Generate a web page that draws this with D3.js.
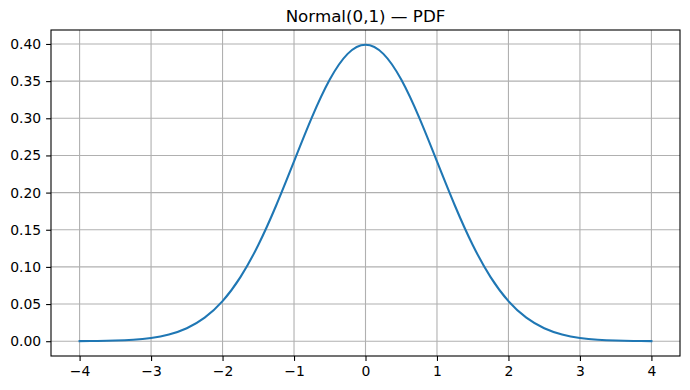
<!DOCTYPE html>
<html lang="en">
  <head>
    <meta charset="UTF-8" />
    <title>Normal(0,1) — PDF</title>
    <style>
      body { margin: 0; background: #fff; }
      svg text { font-family: "DejaVu Sans", sans-serif; fill: #000; }
      .tick text { font-size: 13.9px; }
      .grid line { stroke: #b0b0b0; stroke-width: 1.1; }
    </style>
  </head>
  <body>
    <svg width="690" height="390"></svg>
    <script src="https://d3js.org/d3.v7.min.js"></script>
    <script>
      // values (standard normal density)
      const xs = [-4, -3.75, -3.5, -3.25, -3, -2.75, -2.5, -2.25, -2, -1.75, -1.5, -1.25, -1,
        -0.75, -0.5, -0.25, 0, 0.25, 0.5, 0.75, 1, 1.25, 1.5, 1.75, 2, 2.25, 2.5, 2.75, 3,
        3.25, 3.5, 3.75, 4];
      const ys = [0.00013, 0.00035, 0.00087, 0.00203, 0.00443, 0.00909, 0.01753, 0.03174,
        0.05399, 0.08628, 0.12952, 0.18265, 0.24197, 0.30114, 0.35207, 0.38667, 0.39894,
        0.38667, 0.35207, 0.30114, 0.24197, 0.18265, 0.12952, 0.08628, 0.05399, 0.03174,
        0.01753, 0.00909, 0.00443, 0.00203, 0.00087, 0.00035, 0.00013];
      const xTicks = [-4, -3, -2, -1, 0, 1, 2, 3, 4];
      const yTicks = [0, 0.05, 0.1, 0.15, 0.2, 0.25, 0.3, 0.35, 0.4];
      const title = "Normal(0,1) — PDF";

      const svg = d3.select("svg");
      const m = { left: 51, right: 680, top: 30, bottom: 356 };

      const x = d3.scaleLinear().domain([-4.4, 4.4]).range([m.left, m.right]);
      const y = d3.scaleLinear().domain([-0.0199, 0.4188]).range([m.bottom, m.top]);
      const fmtX = (d) => (d < 0 ? "\u2212" + Math.abs(d) : String(d));

      // grid
      const grid = svg.append("g").attr("class", "grid");
      grid.selectAll(".gx").data(xTicks).enter().append("line")
        .attr("x1", (d) => x(d)).attr("x2", (d) => x(d))
        .attr("y1", m.top).attr("y2", m.bottom);
      grid.selectAll(".gy").data(yTicks).enter().append("line")
        .attr("x1", m.left).attr("x2", m.right)
        .attr("y1", (d) => y(d)).attr("y2", (d) => y(d));

      // curve
      const pts = xs.map((v, i) => [v, ys[i]]);
      svg.append("path")
        .datum(pts)
        .attr("fill", "none")
        .attr("stroke", "#1f77b4")
        .attr("stroke-width", 2.08)
        .attr("stroke-linecap", "square")
        .attr("d", d3.line().x((d) => x(d[0])).y((d) => y(d[1])).curve(d3.curveNatural));

      // axes
      const xAxis = svg.append("g")
        .attr("transform", `translate(0,${m.bottom})`)
        .call(d3.axisBottom(x).tickValues(xTicks).tickFormat(fmtX).tickSize(4.9).tickPadding(4.9));
      const yAxis = svg.append("g")
        .attr("transform", `translate(${m.left},0)`)
        .call(d3.axisLeft(y).tickValues(yTicks).tickFormat(d3.format(".2f")).tickSize(4.9).tickPadding(4.9));
      [xAxis, yAxis].forEach((a) => {
        a.select(".domain").remove();
        a.selectAll(".tick line").attr("stroke", "#000").attr("stroke-width", 1.1);
      });

      // frame
      svg.append("rect")
        .attr("x", m.left).attr("y", m.top)
        .attr("width", m.right - m.left).attr("height", m.bottom - m.top)
        .attr("fill", "none").attr("stroke", "#000").attr("stroke-width", 1.1);

      svg.append("text")
        .attr("x", (m.left + m.right) / 2).attr("y", 22)
        .attr("text-anchor", "middle")
        .style("font-size", "16.7px")
        .text(title);
    </script>
  </body>
</html>
